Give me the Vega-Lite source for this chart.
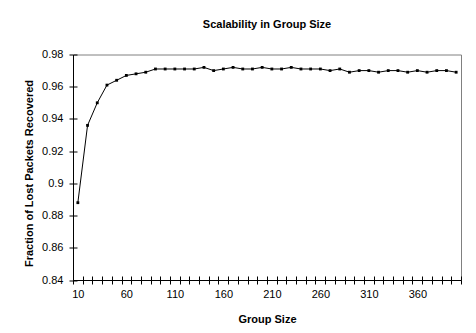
{
  "$schema": "https://vega.github.io/schema/vega-lite/v6.json",
  "width": 388,
  "height": 225.5,
  "autosize": "none",
  "padding": {"left": 73, "top": 54.5, "right": 15, "bottom": 53},
  "background": "white",
  "config": {
    "font": "Liberation Sans",
    "view": {"stroke": "#808080", "strokeWidth": 1},
    "axis": {"grid": false, "domainColor": "black", "tickColor": "black", "labelColor": "black", "titleColor": "black", "labelFont": "Liberation Sans", "titleFont": "Liberation Sans", "labelFontSize": 11, "titleFontSize": 11, "titleFontWeight": "bold"}
  },
  "title": {"text": "Scalability in Group Size", "font": "Liberation Sans", "fontSize": 11, "fontWeight": "bold", "color": "black", "anchor": "middle", "offset": 19},
  "data": {"values": [
    {"size": 10, "frac": 0.888}, {"size": 20, "frac": 0.936}, {"size": 30, "frac": 0.950}, {"size": 40, "frac": 0.961},
    {"size": 50, "frac": 0.964}, {"size": 60, "frac": 0.967}, {"size": 70, "frac": 0.968}, {"size": 80, "frac": 0.969},
    {"size": 90, "frac": 0.971}, {"size": 100, "frac": 0.971}, {"size": 110, "frac": 0.971}, {"size": 120, "frac": 0.971},
    {"size": 130, "frac": 0.971}, {"size": 140, "frac": 0.972}, {"size": 150, "frac": 0.970}, {"size": 160, "frac": 0.971},
    {"size": 170, "frac": 0.972}, {"size": 180, "frac": 0.971}, {"size": 190, "frac": 0.971}, {"size": 200, "frac": 0.972},
    {"size": 210, "frac": 0.971}, {"size": 220, "frac": 0.971}, {"size": 230, "frac": 0.972}, {"size": 240, "frac": 0.971},
    {"size": 250, "frac": 0.971}, {"size": 260, "frac": 0.971}, {"size": 270, "frac": 0.970}, {"size": 280, "frac": 0.971},
    {"size": 290, "frac": 0.969}, {"size": 300, "frac": 0.970}, {"size": 310, "frac": 0.970}, {"size": 320, "frac": 0.969},
    {"size": 330, "frac": 0.970}, {"size": 340, "frac": 0.970}, {"size": 350, "frac": 0.969}, {"size": 360, "frac": 0.970},
    {"size": 370, "frac": 0.969}, {"size": 380, "frac": 0.970}, {"size": 390, "frac": 0.970}, {"size": 400, "frac": 0.969}
  ]},
  "resolve": {"axis": {"x": "independent", "y": "independent"}},
  "layer": [
    {
      "mark": {"type": "line", "color": "black", "strokeWidth": 1},
      "encoding": {
        "x": {"field": "size", "type": "ordinal", "sort": "ascending",
              "scale": {"type": "band", "paddingInner": 0, "paddingOuter": 0},
              "axis": {"orient": "bottom", "title": "Group Size", "tickBand": "extent", "tickSize": 4, "labelAngle": 0, "labelPadding": 4, "labelOverlap": false,
                       "labelExpr": "(datum.value - 10) % 50 == 0 ? datum.label : ''", "titlePadding": 14}},
        "y": {"field": "frac", "type": "quantitative",
              "scale": {"domain": [0.84, 0.98], "zero": false, "nice": false},
              "axis": {"orient": "left", "title": "Fraction of Lost Packets Recovered", "values": [0.84, 0.86, 0.88, 0.9, 0.92, 0.94, 0.96, 0.98],
                       "format": "~g", "tickSize": 4, "labelPadding": 6, "titlePadding": 7, "titleY": 118.5}}
      }
    },
    {
      "mark": {"type": "square", "color": "black", "size": 8, "opacity": 1, "filled": true},
      "encoding": {
        "x": {"field": "size", "type": "ordinal", "sort": "ascending",
              "axis": {"orient": "bottom", "title": null, "labels": false, "domain": false, "tickBand": "extent", "tickSize": -4}},
        "y": {"field": "frac", "type": "quantitative",
              "axis": {"orient": "left", "title": null, "labels": false, "domain": false, "values": [0.84, 0.86, 0.88, 0.9, 0.92, 0.94, 0.96, 0.98], "tickSize": -4}}
      }
    }
  ]
}
